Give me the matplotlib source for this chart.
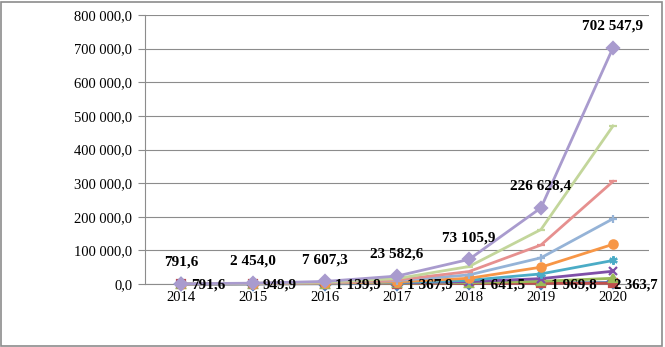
import matplotlib
matplotlib.use('Agg')

import matplotlib.pyplot as plt
from matplotlib.patches import Rectangle

years = ["2014", "2015", "2016", "2017", "2018", "2019", "2020"]

# series drawn bottom to top
s_blue = [200, 400, 700, 1200, 1800, 2800, 4500]
s_red = [791.6, 949.9, 1139.9, 1367.9, 1641.5, 1969.8, 2363.7]
s_green = [250, 600, 1200, 2500, 4000, 8000, 17000]
s_purple = [300, 700, 1500, 3500, 7000, 16000, 38000]
s_aqua = [400, 900, 2000, 4500, 11000, 30000, 70000]
s_orange = [500, 1100, 2500, 6500, 17000, 50000, 118000]
s_lblue = [600, 1500, 3800, 10000, 27000, 78000, 194000]
s_lred = [700, 1700, 4500, 12000, 37000, 116000, 305000]
s_lgreen = [750, 2000, 5500, 16000, 52000, 162000, 470000]
s_top = [791.6, 2454.0, 7607.3, 23582.6, 73105.9, 226628.4, 702547.9]

yticks = [0, 100000, 200000, 300000, 400000, 500000, 600000, 700000, 800000]


def fmt(v):
    s = f"{v:,.1f}".replace(",", " ").replace(".", ",")
    return s


plt.rcParams['font.family'] = ['Liberation Serif', 'DejaVu Serif']

fig = plt.figure(figsize=(6.65, 3.47), dpi=100)
ax = fig.add_axes([145 / 665, 1 - 284 / 347, (649 - 145) / 665, (284 - 15) / 347])

# frame round the whole picture
fig.patches.append(Rectangle((0.002, 0.004), 0.994, 0.99, transform=fig.transFigure,
                             fill=False, edgecolor="#8c8c8c", lw=1.2))

x = list(range(len(years)))
series = [
    (s_blue, "#4F81BD", "D"),
    (s_red, "#C0504D", "s"),
    (s_green, "#9BBB59", "^"),
    (s_purple, "#7F4FA8", "x"),
    (s_aqua, "#4BACC6", (6, 2, 0)),
    (s_orange, "#F79646", "o"),
    (s_lblue, "#95B3D7", "+"),
    (s_lred, "#E6908F", "_"),
    (s_lgreen, "#C3D69B", "_"),
    (s_top, "#A99BCE", "D"),
]
for vals, col, mk in series:
    ax.plot(x, vals, color=col, lw=2, marker=mk, ms=6, mew=1.6,
            markerfacecolor=col, markeredgecolor=col, clip_on=False, zorder=3)

# labels of the top series above the points
for xi, v in zip(x, s_top):
    ax.annotate(fmt(v), xy=(xi, v), xytext=(0, 11),
                textcoords="offset points", ha="center", va="bottom",
                fontsize=11, fontweight="bold", zorder=5)

# labels of the slow series to the right of the points
for xi, v in zip(x, s_red):
    last = xi == len(x) - 1
    ax.annotate(fmt(v), xy=(xi, v), xytext=(1 if last else 7, -1),
                textcoords="offset points", ha="left", va="center",
                fontsize=10.5 if last else 11, fontweight="bold", zorder=5)

ax.set_xlim(-0.5, 6.5)
ax.set_ylim(0, 800000)
ax.set_xticks(x)
ax.set_xticklabels(years, fontsize=10.5)
ax.set_yticks(yticks)
ax.set_yticklabels([fmt(v) for v in yticks], fontsize=10.5)
ax.grid(axis="y", color="#8c8c8c", lw=0.8)
ax.set_axisbelow(True)
for side in ["top", "right"]:
    ax.spines[side].set_visible(False)
ax.spines["left"].set_color("#8c8c8c")
ax.spines["bottom"].set_color("#8c8c8c")
ax.tick_params(axis="y", length=5, color="#8c8c8c", pad=4)
ax.tick_params(axis="x", length=0, pad=5)

plt.savefig("out.png", dpi=100)
